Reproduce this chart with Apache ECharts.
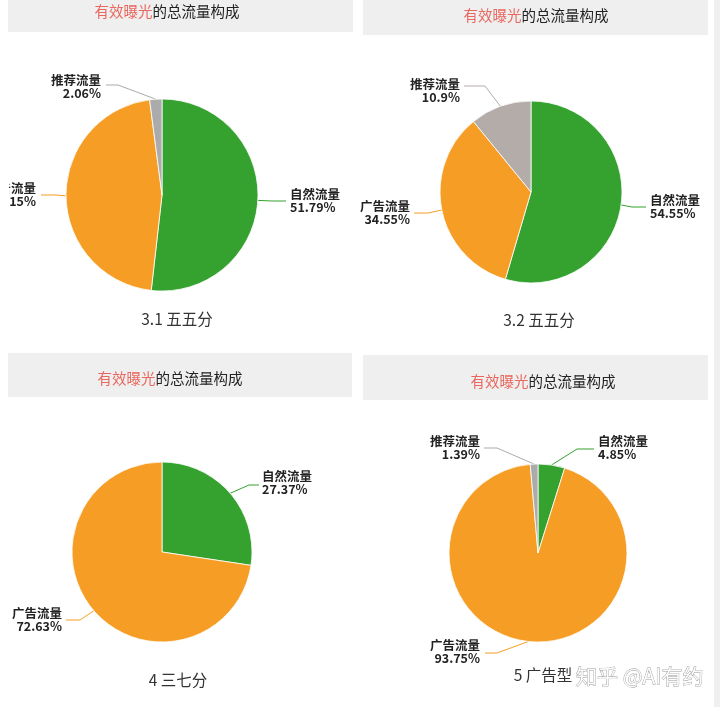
<!DOCTYPE html>
<html>
<head>
<meta charset="utf-8">
<script src="https://cdn.jsdelivr.net/npm/echarts@6/dist/echarts.min.js"></script>
<style>
html,body{margin:0;padding:0;background:#fff;}
#c{width:720px;height:707px;}
</style>
</head>
<body>
<div id="c"></div>
<script>
// ---- data ----
const names = ['自然流量', '广告流量', '推荐流量'];
const chart1Values = [51.79, 46.15, 2.06];
const chart2Values = [54.55, 34.55, 10.9];
const chart3Values = [27.37, 72.63];
const chart4Values = [4.85, 93.75, 1.39];
const captions = ['3.1 五五分', '3.2 五五分', '4 三七分', '5 广告型'];
const titleRed = '有效曝光';
const titleRest = '的总流量构成';
const watermark = '知乎 @AI有约';

// ---- styling / layout ----
const GREEN = '#35a12f', ORANGE = '#f59d24', GRAY1 = '#ababab', GRAY2 = '#b3aca9';
const FONT = '"Noto Sans CJK SC", "Noto Sans", sans-serif';

const panels = [
  {values: chart1Values, colors: [GREEN, ORANGE, GRAY1], center: [162, 195], r: 96,
   header: [8, -2, 345, 34], titlePos: [162, 11], caption: [177, 319],
   labels: [
     {x: 290, y: 201, align: 'left', knee: [272, 201], end: [286, 201]},
     {x: 36, y: 195, align: 'right', knee: [56, 195], end: [41, 195]},
     {x: 101, y: 87, align: 'right', knee: [118, 85], end: [106, 85]}
   ]},
  {values: chart2Values, colors: [GREEN, ORANGE, GRAY2], center: [531, 192], r: 91,
   header: [363, -2, 345, 37], titlePos: [531, 15], caption: [539, 320],
   labels: [
     {x: 650, y: 207, align: 'left', knee: [632, 207], end: [646, 207]},
     {x: 410, y: 213, align: 'right', knee: [428, 213], end: [414, 213]},
     {x: 460, y: 91, align: 'right', knee: [485, 86], end: [464, 86]}
   ]},
  {values: chart3Values, colors: [GREEN, ORANGE], center: [162, 552], r: 90,
   header: [8, 353, 344, 44], titlePos: [165, 378], caption: [178, 680],
   labels: [
     {x: 262, y: 483, align: 'left', knee: [249, 485], end: [259, 485]},
     {x: 62, y: 620, align: 'right', knee: [80, 620], end: [66, 620]}
   ]},
  {values: chart4Values, colors: [GREEN, ORANGE, GRAY1], center: [538, 553], r: 89,
   header: [363, 355, 345, 45], titlePos: [538, 381], caption: [543, 675],
   labels: [
     {x: 598, y: 448, align: 'left', knee: [577, 449], end: [594, 449]},
     {x: 480, y: 652, align: 'right', knee: [497, 653], end: [485, 653]},
     {x: 480, y: 448, align: 'right', knee: [497, 448], end: [484, 448]}
   ]}
];

const series = panels.map((p, si) => ({
  type: 'pie',
  center: p.center,
  radius: p.r,
  startAngle: 90,
  clockwise: true,
  animation: false,
  avoidLabelOverlap: false,
  data: p.values.map((v, i) => ({name: names[i], value: v, itemStyle: {color: p.colors[i]}})),
  itemStyle: {borderColor: '#fff', borderWidth: 0.8},
  label: {
    show: true, position: 'outside',
    formatter: '{b}\n{c}%',
    fontFamily: FONT, fontSize: 12.5, lineHeight: 13, color: '#222', fontWeight: 'bold'
  },
  labelLine: {show: true, length: 12, length2: 12, smooth: false, lineStyle: {width: 1}},
  emphasis: {disabled: true},
  labelLayout: function (params) {
    const cfg = panels[params.seriesIndex].labels[params.dataIndex];
    const pts = params.labelLinePoints;
    const start = pts ? [pts[0][0], pts[0][1]] : cfg.knee;
    return {
      x: cfg.x, y: cfg.y, align: cfg.align, verticalAlign: 'middle',
      labelLinePoints: [start, cfg.knee.slice(), cfg.end.slice()]
    };
  }
}));

const titles = panels.map(p => ({
  text: '{r|' + titleRed + '}{k|' + titleRest + '}',
  left: p.titlePos[0], top: p.titlePos[1] - 12,
  textAlign: 'center',
  textStyle: {
    rich: {
      r: {color: '#e8675e', fontSize: 14.5, fontFamily: FONT, fontWeight: 'normal'},
      k: {color: '#222', fontSize: 14.5, fontFamily: FONT, fontWeight: 'normal'}
    }
  }
}));

const graphics = [];
graphics.push({type: 'rect', shape: {x: 714, y: 0, width: 6, height: 707}, style: {fill: '#f0f0f0'}, z: -10});
panels.forEach((p, i) => {
  graphics.push({type: 'rect', shape: {x: p.header[0], y: p.header[1], width: p.header[2], height: p.header[3]},
    style: {fill: '#efefef'}, z: -5});
  graphics.push({type: 'text', x: p.caption[0], y: p.caption[1],
    style: {text: captions[i], fill: '#333', font: '15.5px ' + FONT, textAlign: 'center', textVerticalAlign: 'middle'}});
});
// left crop edge of the source image (top-left panel)
graphics.push({type: 'rect', shape: {x: 0, y: 40, width: 9, height: 300}, style: {fill: '#fff'}, z: 100});
graphics.push({type: 'text', x: 576, y: 676, z: 50,
  style: {text: watermark, fill: 'rgba(255,255,255,0.9)', stroke: '#9a9a9a', lineWidth: 0.8,
    font: '21px ' + FONT, textAlign: 'left', textVerticalAlign: 'middle'}});

const chart = echarts.init(document.getElementById('c'), null, {renderer: 'canvas'});
chart.setOption({
  backgroundColor: '#fff',
  animation: false,
  title: titles,
  graphic: graphics,
  series: series
});
</script>
</body>
</html>
